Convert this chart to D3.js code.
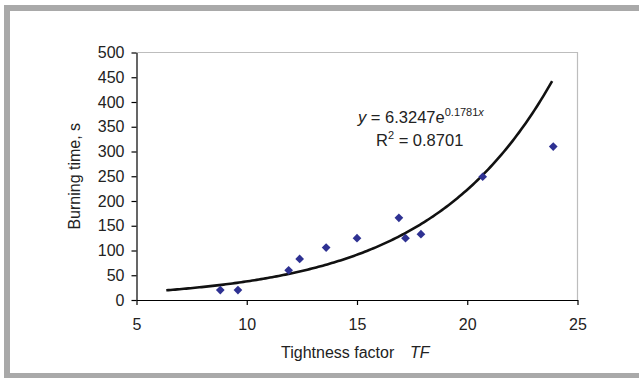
<!DOCTYPE html>
<html>
<head>
<meta charset="utf-8">
<script src="https://cdn.jsdelivr.net/npm/d3@7"></script>
<style>
  body { margin: 0; background: #fff; }
  svg { display: block; font-family: 'Liberation Sans', Arial, sans-serif; }
</style>
</head>
<body>
<svg width="639" height="378"></svg>
<script>
const tightness = [8.8, 9.6, 11.9, 12.4, 13.6, 15.0, 16.9, 17.2, 17.9, 20.7, 23.9];
const burnTime = [20, 20, 60, 83, 106, 125, 166, 125, 133, 249, 310];
const xTicks = [5, 10, 15, 20, 25];
const yTicks = [0, 50, 100, 150, 200, 250, 300, 350, 400, 450, 500];
// exponential trendline as printed on the chart
const trendA = 6.3247;
const trendB = 0.1781;
const trendR2 = '0.8701';
const trendFrom = 6.35;
const trendTo = 23.85;

const svg = d3.select('svg');
const width = 639;
const height = 378;
const plot = { left: 136.5, right: 577.5, top: 52.5, bottom: 300 };

// grey frame (left, top, bottom bands)
svg.append('rect').attr('x', 4).attr('y', 5).attr('width', 6).attr('height', height - 5).attr('fill', '#a9a9a9');
svg.append('rect').attr('x', 4).attr('y', 5).attr('width', width - 4).attr('height', 6).attr('fill', '#a9a9a9');
svg.append('rect').attr('x', 4).attr('y', 373).attr('width', width - 4).attr('height', 5).attr('fill', '#a9a9a9');

const x = d3.scaleLinear().domain([5, 25]).range([plot.left, plot.right]);
const y = d3.scaleLinear().domain([0, 500]).range([plot.bottom, plot.top]);

// light border on top and right of plot area
svg.append('path')
  .attr('d', `M${plot.left},${plot.top}H${plot.right}V${plot.bottom}`)
  .attr('fill', 'none')
  .attr('stroke', '#bdbdbd')
  .attr('stroke-width', 1.2);

const yAxis = svg.append('g')
  .attr('transform', `translate(${plot.left},0)`)
  .call(d3.axisLeft(y).tickValues(yTicks).tickSize(5).tickPadding(7).tickSizeOuter(0));

const xAxis = svg.append('g')
  .attr('transform', `translate(0,${plot.bottom})`)
  .call(d3.axisBottom(x).tickValues(xTicks).tickSize(5).tickPadding(14).tickSizeOuter(0));

[xAxis, yAxis].forEach((ax) => {
  ax.select('.domain').attr('stroke', '#000').attr('stroke-width', 1.2);
  ax.selectAll('line').attr('stroke', '#000').attr('stroke-width', 1.2);
  ax.selectAll('text').attr('font-size', 16).attr('fill', '#222').attr('font-family', 'Liberation Sans, Arial, sans-serif');
});

// trendline
const trendPts = d3.range(trendFrom, trendTo + 0.001, 0.1).map((t) => [t, trendA * Math.exp(trendB * t)]);
svg.append('path')
  .datum(trendPts)
  .attr('d', d3.line().x((d) => x(d[0])).y((d) => y(d[1])))
  .attr('fill', 'none')
  .attr('stroke', '#111')
  .attr('stroke-width', 2.6);

// diamonds
svg.selectAll('.pt')
  .data(tightness)
  .enter()
  .append('path')
  .attr('class', 'pt')
  .attr('d', d3.symbol(d3.symbolSquare, 38))
  .attr('transform', (d, i) => `translate(${x(d)},${y(burnTime[i])}) rotate(45)`)
  .attr('fill', '#2e3192');

// equation label
const eq = svg.append('text').attr('x', 358).attr('y', 123).attr('font-size', 16.5).attr('fill', '#222');
eq.append('tspan').attr('font-style', 'italic').text('y');
eq.append('tspan').text(' = ' + trendA + 'e');
eq.append('tspan').attr('font-size', 11).attr('dy', -7.5).text(trendB);
eq.append('tspan').attr('font-size', 11).attr('font-style', 'italic').text('x');

const r2 = svg.append('text').attr('x', 376).attr('y', 145.5).attr('font-size', 16.5).attr('fill', '#222');
r2.append('tspan').text('R');
r2.append('tspan').attr('font-size', 11).attr('dy', -7).text('2');
r2.append('tspan').attr('dy', 7).text(' = ' + trendR2);

// axis titles
svg.append('text')
  .attr('transform', `translate(80,${(plot.top + plot.bottom) / 2}) rotate(-90)`)
  .attr('text-anchor', 'middle')
  .attr('font-size', 16)
  .attr('fill', '#222')
  .text('Burning time, s');

svg.append('text').attr('x', 281).attr('y', 358).attr('font-size', 16).attr('fill', '#222').text('Tightness factor');
svg.append('text').attr('x', 410).attr('y', 358).attr('font-size', 16).attr('font-style', 'italic').attr('fill', '#222').text('TF');
</script>
</body>
</html>
